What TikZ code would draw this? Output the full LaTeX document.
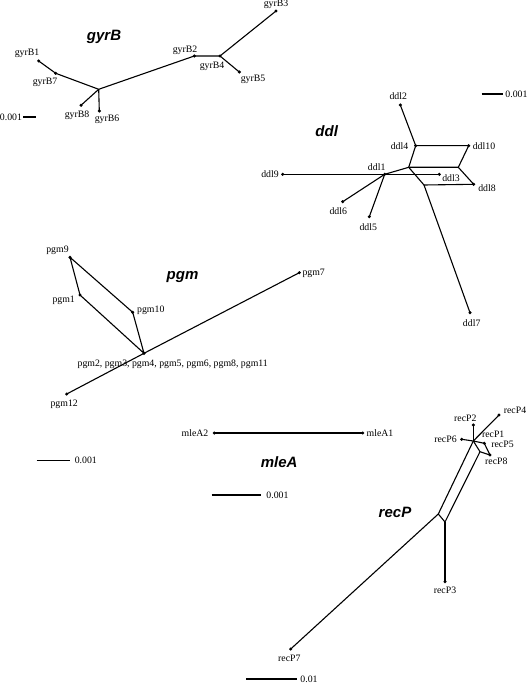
\documentclass[tikz,border=0pt]{standalone}
\usepackage{fontspec}
\setmainfont{Liberation Serif}
\newfontfamily\titlefam{Liberation Sans}
\begin{document}
\begin{tikzpicture}[x=1pt,y=-1pt,
  edge/.style={line width=1.1pt,line join=round},
  pt/.style={circle,fill=black,inner sep=0pt,minimum size=3.4pt},
  lbl/.style={inner sep=0pt,font=\fontsize{9.8}{11}\selectfont},
  ttl/.style={inner sep=0pt,font=\titlefam\bfseries\itshape\fontsize{15}{17}\selectfont}]
\useasboundingbox[fill=white] (0,0) rectangle (528,687);

% ---------------- gyrB ----------------
\node[ttl] (tgyrB) at (104,37) {gyrB};
\node[pt] (gyrB1) at (38.7,61) {};
\node[pt] (gyrB7) at (55.7,73.3) {};
\coordinate (gJ) at (98.7,89.3);
\node[pt] (gyrB8) at (81,105.3) {};
\node[pt] (gyrB6) at (99.3,111) {};
\node[pt] (gyrB2) at (194.3,56) {};
\node[pt] (gyrB4) at (220,56) {};
\node[pt] (gyrB5) at (239.3,72) {};
\node[pt] (gyrB3) at (276,11) {};
\draw[edge] (gyrB1.center) -- (gyrB7.center) -- (gJ) -- (gyrB2.center) -- (gyrB4.center) -- (gyrB3.center);
\draw[edge] (gJ) -- (gyrB8.center);
\draw[edge] (gJ) -- (gyrB6.center);
\draw[edge] (gyrB4.center) -- (gyrB5.center);
\node[lbl] (lgyrB1) at (27,53) {gyrB1};
\node[lbl] (lgyrB7) at (45,82) {gyrB7};
\node[lbl] (lgyrB8) at (77,115) {gyrB8};
\node[lbl] (lgyrB6) at (107,119) {gyrB6};
\node[lbl] (lgyrB2) at (185,50) {gyrB2};
\node[lbl] (lgyrB4) at (212,66) {gyrB4};
\node[lbl] (lgyrB5) at (253,79) {gyrB5};
\node[lbl] (lgyrB3) at (276,4) {gyrB3};
\node[lbl] (sgyrBt) at (11,117) {0.001};
\coordinate (sgyrBa) at (23,117);
\coordinate (sgyrBb) at (36,117);
\draw[edge] (sgyrBa) -- (sgyrBb);

% ---------------- ddl ----------------
\node[ttl] (tddl) at (326.7,130.7) {ddl};
\node[pt] (ddl1) at (384.7,174.3) {};
\node[pt] (ddl9) at (282.7,174.3) {};
\node[pt] (ddl3) at (439.3,174.3) {};
\node[pt] (ddl6) at (342.7,201.7) {};
\node[pt] (ddl5) at (369.3,216.7) {};
\coordinate (dJ2) at (408.7,167.3);
\node[pt] (ddl4) at (415.7,145.7) {};
\node[pt] (ddl2) at (400.3,105) {};
\node[pt] (ddl10) at (468.7,145.7) {};
\coordinate (dJ3) at (458.3,167.3);
\node[pt] (ddl8) at (473.7,184.3) {};
\coordinate (dJ4) at (424,185);
\node[pt] (ddl7) at (470,312.7) {};
\draw[edge] (ddl9.center) -- (ddl1.center) -- (ddl3.center);
\draw[edge] (ddl1.center) -- (ddl6.center);
\draw[edge] (ddl1.center) -- (ddl5.center);
\draw[edge] (ddl1.center) -- (dJ2);
\draw[edge] (dJ2) -- (ddl4.center) -- (ddl2.center);
\draw[edge] (ddl4.center) -- (ddl10.center) -- (dJ3) -- (dJ2);
\draw[edge] (dJ3) -- (ddl8.center) -- (dJ4) -- (dJ2);
\draw[edge] (dJ4) -- (ddl7.center);
\node[lbl] (lddl2) at (398.3,96) {ddl2};
\node[lbl] (lddl4) at (399.5,146) {ddl4};
\node[lbl] (lddl10) at (484,145.7) {ddl10};
\node[lbl] (lddl1) at (376.7,167.3) {ddl1};
\node[lbl] (lddl9) at (270,174.3) {ddl9};
\node[lbl] (lddl3) at (451,178.5) {ddl3};
\node[lbl] (lddl8) at (487,187.7) {ddl8};
\node[lbl] (lddl6) at (338.3,210.7) {ddl6};
\node[lbl] (lddl5) at (368.3,226.7) {ddl5};
\node[lbl] (lddl7) at (471.7,323.3) {ddl7};
\coordinate (sddla) at (481.7,94);
\coordinate (sddlb) at (503.3,94);
\draw[edge] (sddla) -- (sddlb);
\node[lbl] (sddlt) at (516.5,94) {0.001};

% ---------------- pgm ----------------
\node[ttl] (tpgm) at (182.5,276.7) {pgm};
\node[pt] (pgm9) at (70,257.3) {};
\node[pt] (pgm1) at (80,295) {};
\node[pt] (pgm10) at (132.7,312.3) {};
\node[pt] (pgmC) at (144,353.3) {};
\node[pt] (pgm7) at (299.3,272.7) {};
\node[pt] (pgm12) at (66.7,394) {};
\draw[edge] (pgm9.center) -- (pgm1.center) -- (pgmC.center) -- (pgm10.center) -- cycle;
\draw[edge] (pgm12.center) -- (pgmC.center) -- (pgm7.center);
\node[lbl] (lpgm9) at (57.5,250) {pgm9};
\node[lbl] (lpgm1) at (63.7,300.7) {pgm1};
\node[lbl] (lpgm10) at (150.8,310) {pgm10};
\node[lbl] (lpgm7) at (313.7,273.3) {pgm7};
\node[lbl] (lpgm12) at (64.2,404.3) {pgm12};
\node[lbl] (lpgmC) at (172.7,364) {pgm2, pgm3, pgm4, pgm5, pgm6, pgm8, pgm11};
\coordinate (spgma) at (36.7,460.7);
\coordinate (spgmb) at (70,460.7);
\draw[edge] (spgma) -- (spgmb);
\node[lbl] (spgmt) at (85.8,460.7) {0.001};

% ---------------- mleA ----------------
\node[ttl] (tmleA) at (279.2,461.7) {mleA};
\node[pt] (mleA2) at (214.3,433) {};
\node[pt] (mleA1) at (362.7,433) {};
\draw[edge] (mleA2.center) -- (mleA1.center);
\node[lbl] (lmleA2) at (195,433) {mleA2};
\node[lbl] (lmleA1) at (380,433) {mleA1};
\coordinate (smleAa) at (211.7,495);
\coordinate (smleAb) at (261,495);
\draw[edge] (smleAa) -- (smleAb);
\node[lbl] (smleAt) at (277.5,495) {0.001};

% ---------------- recP ----------------
\node[ttl] (trecP) at (395,512) {recP};
\coordinate (recP1) at (473.3,441);
\node[pt] (recP2) at (473.3,425) {};
\node[pt] (recP4) at (499,415) {};
\node[pt] (recP6) at (461.7,439.3) {};
\node[pt] (recP5) at (484.3,443.3) {};
\node[pt] (recP8) at (490,455) {};
\coordinate (rQ) at (480,451.7);
\coordinate (rL1) at (438.3,514);
\coordinate (rL2) at (445,522);
\node[pt] (recP3) at (445,581.7) {};
\node[pt] (recP7) at (290.7,649) {};
\draw[edge] (recP1) -- (recP2.center);
\draw[edge] (recP1) -- (recP4.center);
\draw[edge] (recP1) -- (recP6.center);
\draw[edge] (recP1) -- (recP5.center) -- (recP8.center) -- (rQ) -- (recP1);
\draw[edge] (recP1) -- (rL1) -- (rL2) -- (rQ);
\draw[edge] (rL1) -- (recP7.center);
\draw[edge] (rL2) -- (recP3.center);
\node[lbl] (lrecP2) at (465.3,418.3) {recP2};
\node[lbl] (lrecP4) at (515,410.7) {recP4};
\node[lbl] (lrecP6) at (445.5,439.3) {recP6};
\node[lbl] (lrecP1) at (493.2,434.3) {recP1};
\node[lbl] (lrecP5) at (502.5,444.3) {recP5};
\node[lbl] (lrecP8) at (496.3,461.7) {recP8};
\node[lbl] (lrecP3) at (445,590.7) {recP3};
\node[lbl] (lrecP7) at (289.3,658.3) {recP7};
\coordinate (srecPa) at (246,679);
\coordinate (srecPb) at (297,679);
\draw[edge] (srecPa) -- (srecPb);
\node[lbl] (srecPt) at (309,679) {0.01};
\end{tikzpicture}
\end{document}
